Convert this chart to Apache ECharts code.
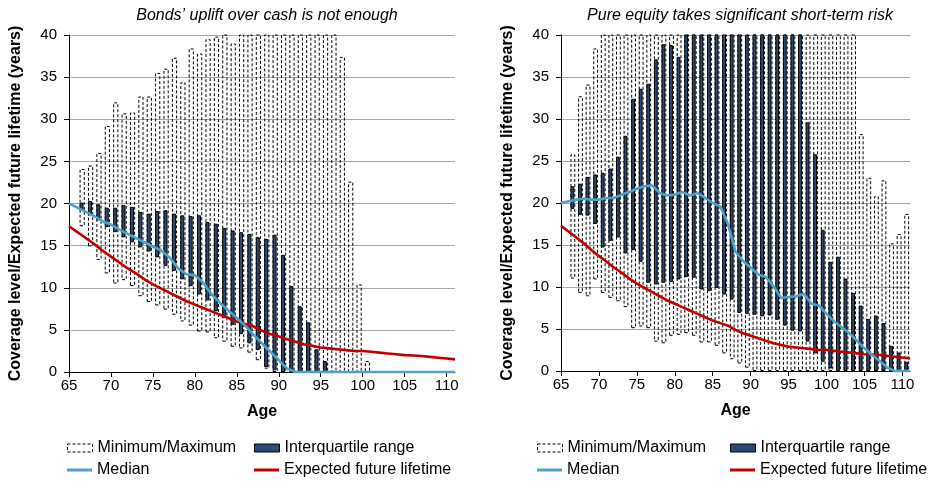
<!DOCTYPE html>
<html><head><meta charset="utf-8">
<script src="https://cdn.jsdelivr.net/npm/echarts@6/dist/echarts.min.js"></script>
<style>html,body{margin:0;padding:0;background:#fff}#c{width:930px;height:481px}</style>
</head><body><div id="c"></div>
<script>
// Category positions for the bars (ages 65..110); bars exist from age 66
const catAges = [65,66,67,68,69,70,71,72,73,74,75,76,77,78,79,80,81,82,83,84,85,86,87,88,89,90,91,92,93,94,95,96,97,98,99,100,101,102,103,104,105,106,107,108,109,110];
const barAges = [66,67,68,69,70,71,72,73,74,75,76,77,78,79,80,81,82,83,84,85,86,87,88,89,90,91,92,93,94,95,96,97,98,99,100,101,102,103,104,105,106,107,108,109,110];
const lineAges = [65,66,67,68,69,70,71,72,73,74,75,76,77,78,79,80,81,82,83,84,85,86,87,88,89,90,91,92,93,94,95,96,97,98,99,100,101,102,103,104,105,106,107,108,109,110,111];
const xTicks = [65,70,75,80,85,90,95,100,105,110];
const yTicks = [0,5,10,15,20,25,30,35,40];

// Left panel: bonds
const bondsMax = [24.1,24.5,26.0,29.2,32.0,30.7,30.8,32.7,32.7,35.5,36.0,37.3,34.4,38.4,37.8,39.5,39.8,42,39.0,42,42,42,42,42,42,42,42,42,42,42,42,37.4,22.6,10.4,1.3,null,null,null,null,null,null,null,null,null,null];
const bondsMin = [17.3,14.9,13.3,11.7,10.5,10.9,10.2,9.0,8.3,7.9,7.4,6.8,6.0,5.5,4.8,4.7,4.0,3.6,3.0,2.8,2.3,1.4,0.4,0,0,0,0,0,0,0,0,0,0,0,0,null,null,null,null,null,null,null,null,null,null];
const bondsQ3 = [20.1,20.3,19.9,19.5,19.5,19.8,19.6,19.0,18.8,19.1,19.2,18.8,18.6,18.5,18.6,17.8,17.6,17.1,16.8,16.6,16.4,16.0,15.8,16.3,13.9,10.2,7.8,5.9,2.7,1.3,null,null,null,null,null,null,null,null,null,null,null,null,null,null,null];
const bondsQ1 = [19.2,18.6,18.0,17.2,16.6,16.0,15.4,14.8,14.3,13.6,12.6,12.0,11.0,10.2,9.2,8.5,7.2,6.4,5.6,4.5,3.4,2.6,0.6,0.2,0,0,0,0,0,0,null,null,null,null,null,null,null,null,null,null,null,null,null,null,null];
const bondsMedian = [20.0,19.5,19.0,18.5,17.9,17.5,16.9,16.4,15.9,15.4,14.9,14.4,13.6,12.3,11.6,11.5,10.6,9.2,8.2,7.3,6.4,5.5,4.4,3.4,2.4,1.4,0.4,0,0,0,0,0,0,0,0,0,0,0,0,0,0,0,0,0,0,0,0];

// Right panel: equity
const equityMax = [25.8,32.7,34.1,38.4,42,42,42,42,42,42,42,42,42,42,42,42,42,42,42,42,42,42,42,42,42,42,42,42,42,42,42,42,42,42,42,42,42,42,28.2,23.0,20.8,22.7,15.2,16.3,18.7];
const equityMin = [11.0,9.3,8.9,10.9,9.3,8.7,8.3,7.6,5.1,5.3,5.1,3.5,3.3,4.2,4.3,4.5,4.2,3.4,3.4,3.0,2.1,1.4,0.9,0.4,0,0,0,0,0,0,0,0,0,0,0,0,0,0,0,0,0,0,0,0,0];
const equityQ3 = [22.0,22.3,23.1,23.4,23.6,24.1,25.5,28.0,32.4,33.6,34.2,37.1,38.9,38.8,37.4,40.5,42,42,42,42,42,42,42,42,42,42,42,42,42,42,42,29.6,25.8,16.8,13.0,13.6,11.0,9.3,7.8,6.2,6.6,5.7,3.0,2.2,1.1];
const equityQ1 = [19.3,18.6,18.5,17.5,14.7,15.5,15.9,14.0,14.4,13.0,10.5,10.3,10.5,10.6,10.9,11.2,11.1,9.7,9.5,9.9,9.1,8.5,6.9,6.8,6.7,6.5,6.6,6.1,5.4,4.8,4.7,3.5,2.1,1.1,0.3,0,0,0,0,0,0,0,0,0,0];
const equityMedian = [20.0,20.2,20.4,20.5,20.4,20.4,20.6,20.6,21.0,21.3,21.7,22.0,22.1,21.2,20.9,21.0,21.3,20.9,21.2,20.6,20.0,19.6,17.5,14.2,13.1,12.3,11.5,11.2,10.1,8.7,8.8,8.9,9.2,8.0,7.8,6.8,5.9,5.2,4.5,3.6,2.7,1.9,1.2,0.4,0,0,0];

// Expected future lifetime (same for both panels)
const lifeExp = [17.3,16.6,15.9,15.2,14.4,13.7,13.0,12.3,11.7,11.0,10.4,9.9,9.4,8.9,8.4,8.0,7.6,7.2,6.8,6.4,6.0,5.7,5.4,4.9,4.5,4.2,3.9,3.6,3.3,3.1,2.9,2.8,2.7,2.6,2.5,2.5,2.4,2.3,2.2,2.1,2.0,1.95,1.9,1.8,1.7,1.6,1.5];

const titles = ['Bonds\u2019 uplift over cash is not enough', 'Pure equity takes significant short-term risk'];
const FONT = '"Liberation Sans", Arial, Helvetica, sans-serif';
const C_IQR = '#2c4a72', C_MED = '#4ba3c9', C_RED = '#c00000', C_GRID = '#a6a6a6';

const grids = [
  {left: 69, top: 35, width: 386, height: 337},
  {left: 561, top: 35, width: 349, height: 336}
];
const barW = [[5.2, 4], [4.8, 3.8]];

function atCat(arr) {
  return catAges.map(a => {
    const k = barAges.indexOf(a);
    return (k < 0 || arr[k] == null) ? '-' : arr[k];
  });
}
function spanCat(lo, hi) {
  const L = atCat(lo), H = atCat(hi);
  return L.map((v, i) => (v === '-' || H[i] === '-') ? '-' : +(H[i] - v).toFixed(3));
}

const panels = [
  {mn: bondsMin, mx: bondsMax, q1: bondsQ1, q3: bondsQ3, med: bondsMedian},
  {mn: equityMin, mx: equityMax, q1: equityQ1, q3: equityQ3, med: equityMedian}
];

const xAxis = [], yAxis = [], series = [];
panels.forEach((p, i) => {
  xAxis.push({
    type: 'value', gridIndex: i, min: 65, max: 111, interval: 5,
    axisLine: {lineStyle: {color: '#000', width: 1}},
    axisTick: {show: true, length: 5, lineStyle: {color: '#000'}},
    axisLabel: {color: '#000', fontSize: 15, fontFamily: FONT, margin: 6, showMaxLabel: false,
      formatter: v => (xTicks.indexOf(v) >= 0 ? String(v) : '')},
    splitLine: {show: false},
    name: 'Age', nameLocation: 'middle', nameGap: 32,
    nameTextStyle: {color: '#000', fontSize: 16, fontWeight: 'bold', fontFamily: FONT}
  });
  xAxis.push({
    type: 'category', gridIndex: i, data: catAges.map(String), boundaryGap: true, show: false
  });
  yAxis.push({
    type: 'value', gridIndex: i, min: 0, max: 40, interval: 5,
    axisLine: {show: true, lineStyle: {color: '#000', width: 1}},
    axisTick: {show: true, length: 5, lineStyle: {color: '#000'}},
    axisLabel: {color: '#000', fontSize: 15, fontFamily: FONT, margin: 12,
      formatter: v => (yTicks.indexOf(v) >= 0 ? String(v) : '')},
    splitLine: {show: true, lineStyle: {color: C_GRID, width: 1.2}},
    name: 'Coverage level/Expected future lifetime (years)', nameLocation: 'middle', nameGap: 45,
    nameTextStyle: {color: '#000', fontSize: 16, fontWeight: 'bold', fontFamily: FONT}
  });
  const xb = 2 * i + 1, xl = 2 * i;
  series.push({
    type: 'bar', name: 'mmBase' + i, xAxisIndex: xb, yAxisIndex: i, stack: 'mm' + i,
    data: atCat(p.mn), barWidth: barW[i][0], barGap: '-100%', silent: true,
    itemStyle: {color: 'rgba(0,0,0,0)'}, z: 1
  });
  series.push({
    type: 'bar', name: 'Minimum/Maximum', xAxisIndex: xb, yAxisIndex: i, stack: 'mm' + i,
    data: spanCat(p.mn, p.mx), barWidth: barW[i][0], barGap: '-100%',
    itemStyle: {color: 'rgba(255,255,255,0)', borderColor: '#000', borderWidth: 1, borderType: [3, 2]}, z: 2
  });
  series.push({
    type: 'bar', name: 'iqBase' + i, xAxisIndex: xb, yAxisIndex: i, stack: 'iq' + i,
    data: atCat(p.q1), barWidth: barW[i][1], barGap: '-100%', silent: true,
    itemStyle: {color: 'rgba(0,0,0,0)'}, z: 3
  });
  series.push({
    type: 'bar', name: 'Interquartile range', xAxisIndex: xb, yAxisIndex: i, stack: 'iq' + i,
    data: spanCat(p.q1, p.q3), barWidth: barW[i][1], barGap: '-100%',
    itemStyle: {color: C_IQR, borderColor: '#000', borderWidth: 1}, z: 4
  });
  series.push({
    type: 'line', name: 'Expected future lifetime', xAxisIndex: xl, yAxisIndex: i,
    data: lineAges.map((a, k) => [a, lifeExp[k]]), symbol: 'none', clip: false,
    lineStyle: {color: C_RED, width: 2.6}, itemStyle: {color: C_RED}, z: 5
  });
  series.push({
    type: 'line', name: 'Median', xAxisIndex: xl, yAxisIndex: i,
    data: lineAges.map((a, k) => [a, p.med[k]]), symbol: 'none', clip: false,
    lineStyle: {color: C_MED, width: 2.6}, itemStyle: {color: C_MED}, z: 6
  });
});

const linePath = 'path://M0,0L25,0L25,3L0,3Z';
const legendItems = {
  'Minimum/Maximum': {name: 'Minimum/Maximum', icon: 'rect', itemStyle: {color: '#fff', borderColor: '#000', borderWidth: 1, borderType: [3, 2]}},
  'Interquartile range': {name: 'Interquartile range', icon: 'rect', itemStyle: {color: C_IQR, borderColor: '#000', borderWidth: 1}},
  'Median': {name: 'Median', icon: linePath, itemStyle: {color: C_MED, borderWidth: 0}},
  'Expected future lifetime': {name: 'Expected future lifetime', icon: linePath, itemStyle: {color: C_RED, borderWidth: 0}}
};
const legendPos = [
  ['Minimum/Maximum', 67, 440], ['Interquartile range', 254, 440],
  ['Median', 67, 462], ['Expected future lifetime', 254, 462],
  ['Minimum/Maximum', 537, 440], ['Interquartile range', 730, 440],
  ['Median', 537, 462], ['Expected future lifetime', 730, 462]
];
const legend = legendPos.map(([n, l, t]) => ({
  data: [legendItems[n]], left: l, top: t, padding: 0, itemWidth: 25, itemHeight: 8,
  selectedMode: false, textStyle: {color: '#000', fontSize: 16, fontFamily: FONT}
}));

const option = {
  animation: false,
  backgroundColor: '#fff',
  textStyle: {fontFamily: FONT},
  title: [
    {text: titles[0], left: 262, top: 3, textAlign: 'center', textStyle: {fontStyle: 'italic', fontWeight: 'normal', fontSize: 16, color: '#000', fontFamily: FONT}},
    {text: titles[1], left: 735, top: 3, textAlign: 'center', textStyle: {fontStyle: 'italic', fontWeight: 'normal', fontSize: 16, color: '#000', fontFamily: FONT}}
  ],
  grid: grids,
  legend: legend,
  xAxis: xAxis,
  yAxis: yAxis,
  series: series
};
const chart = echarts.init(document.getElementById('c'), null, {renderer: 'canvas'});
chart.setOption(option);
</script>
</body></html>
